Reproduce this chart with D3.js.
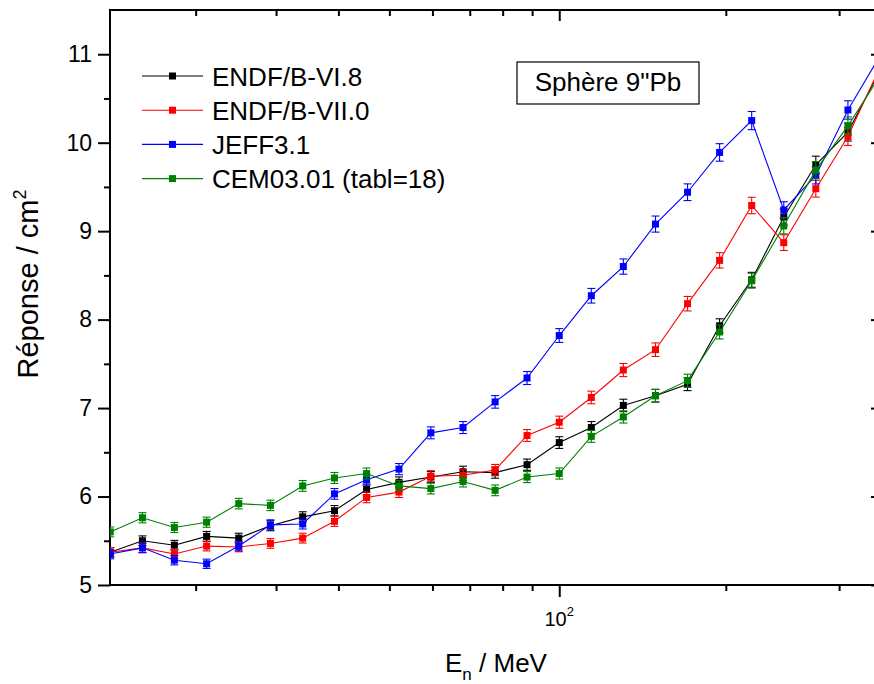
<!DOCTYPE html>
<html>
<head>
<meta charset="utf-8">
<script src="https://cdn.jsdelivr.net/npm/d3@7"></script>
<style>
  html, body { margin: 0; padding: 0; background: #fff; }
  svg { display: block; font-family: "Liberation Sans", Arial, sans-serif; }
</style>
</head>
<body>
<svg id="chart" width="874" height="684"></svg>
<script>
// ---- data ----
const energies = [22.1, 24.8, 27.8, 31.2, 35.0, 39.2, 44.0, 49.3, 55.3, 62.1, 69.6, 78.1, 87.6,
                  98.2, 110.2, 123.6, 138.6, 155.5, 174.4, 195.6, 219.4, 246.1, 276.0, 309.6, 347.0];
const seriesNames = ["ENDF/B-VI.8", "ENDF/B-VII.0", "JEFF3.1", "CEM03.01 (tabl=18)"];
const seriesColors = ["#000000", "#ff0000", "#0000ff", "#008000"];
const endfB6 = [5.37, 5.50, 5.45, 5.55, 5.53, 5.67, 5.77, 5.84, 6.08, 6.16, 6.22, 6.28, 6.27,
                6.36, 6.61, 6.78, 7.03, 7.14, 7.27, 7.93, 8.45, 9.16, 9.75, 10.12, 10.81];
const endfB7 = [5.37, 5.42, 5.35, 5.44, 5.43, 5.47, 5.53, 5.72, 5.99, 6.05, 6.23, 6.24, 6.30,
                6.69, 6.84, 7.12, 7.43, 7.66, 8.18, 8.67, 9.29, 8.87, 9.48, 10.07, 10.85];
const jeff31 = [5.35, 5.42, 5.28, 5.24, 5.44, 5.68, 5.69, 6.03, 6.19, 6.31, 6.72, 6.78, 7.07,
                7.34, 7.82, 8.27, 8.60, 9.08, 9.44, 9.89, 10.25, 9.24, 9.63, 10.37, 10.98];
const cem0301 = [5.60, 5.76, 5.65, 5.71, 5.92, 5.90, 6.12, 6.21, 6.26, 6.12, 6.09, 6.17, 6.07,
                 6.22, 6.26, 6.68, 6.90, 7.14, 7.31, 7.86, 8.44, 9.06, 9.69, 10.19, 10.75];
const relError = 0.01; // error bars ~ ±1 %
const xMinorTicks = [30, 40, 50, 60, 70, 80, 90, 100, 200, 300];
const xMajorTicks = [110.2];
const xMajorLabels = [["10", "2"]];
const yMajorTicks = [5, 6, 7, 8, 9, 10, 11];
const yMinorTicks = [5.5, 6.5, 7.5, 8.5, 9.5, 10.5];
const boxLabel = "Sphère 9\"Pb";
const xTitle = ["E", "n", " / MeV"];
const yTitle = ["Réponse / cm", "2"];

const allSeries = [endfB6, endfB7, jeff31, cem0301];

// ---- layout ----
const L = 110, R = 883, T = 10, B = 585;
const svg = d3.select("#chart");
const x = d3.scaleLog().domain([22.08, 351]).range([L, R]);
const y = d3.scaleLinear().domain([5, 11.5]).range([B, T]);

svg.append("defs").append("clipPath").attr("id", "plotclip")
  .append("rect").attr("x", L).attr("y", T).attr("width", R - L).attr("height", B - T);

// ---- axes ----
function styleAxis(g) {
  g.select(".domain").remove();
  g.selectAll(".tick line").attr("stroke", "#000").attr("stroke-width", 2);
}
// bottom
svg.append("g").attr("transform", `translate(0,${B})`)
  .call(d3.axisBottom(x).tickValues(xMinorTicks).tickSize(6).tickFormat(""))
  .call(styleAxis);
svg.append("g").attr("transform", `translate(0,${B})`)
  .call(d3.axisBottom(x).tickValues(xMajorTicks).tickSize(12).tickFormat(""))
  .call(styleAxis);
// top (ticks inward)
svg.append("g").attr("transform", `translate(0,${T})`)
  .call(d3.axisBottom(x).tickValues(xMinorTicks).tickSize(6).tickFormat(""))
  .call(styleAxis);
svg.append("g").attr("transform", `translate(0,${T})`)
  .call(d3.axisBottom(x).tickValues(xMajorTicks).tickSize(11).tickFormat(""))
  .call(styleAxis);
// left
svg.append("g").attr("transform", `translate(${L},0)`)
  .call(d3.axisLeft(y).tickValues(yMinorTicks).tickSize(6).tickFormat(""))
  .call(styleAxis);
const lMaj = svg.append("g").attr("transform", `translate(${L},0)`)
  .call(d3.axisLeft(y).tickValues(yMajorTicks).tickSize(12).tickPadding(6).tickFormat(d3.format("d")))
  .call(styleAxis);
lMaj.selectAll(".tick text")
  .attr("font-family", "Liberation Sans, Arial, sans-serif")
  .attr("font-size", 23).attr("fill", "#000");
// right (ticks inward)
svg.append("g").attr("transform", `translate(${R},0)`)
  .call(d3.axisLeft(y).tickValues(yMinorTicks).tickSize(6).tickFormat(""))
  .call(styleAxis);
svg.append("g").attr("transform", `translate(${R},0)`)
  .call(d3.axisLeft(y).tickValues(yMajorTicks).tickSize(12).tickFormat(""))
  .call(styleAxis);

// x major label 10^2
xMajorTicks.forEach((v, i) => {
  const t = svg.append("text").attr("x", x(v)).attr("y", B + 41)
    .attr("text-anchor", "middle").attr("font-size", 20).attr("fill", "#000");
  t.append("tspan").text(xMajorLabels[i][0]);
  t.append("tspan").attr("font-size", 13).attr("dy", -10).text(xMajorLabels[i][1]);
});

// frame
svg.append("rect").attr("x", L).attr("y", T).attr("width", R - L).attr("height", B - T)
  .attr("fill", "none").attr("stroke", "#000").attr("stroke-width", 2);

// ---- series ----
const plot = svg.append("g").attr("clip-path", "url(#plotclip)");
const line = d3.line().x((d, i) => x(energies[i])).y(d => y(d));
allSeries.forEach((vals, s) => {
  const c = seriesColors[s];
  const g = plot.append("g");
  g.append("path").datum(vals).attr("d", line).attr("fill", "none")
    .attr("stroke", c).attr("stroke-width", 1.1);
  const pts = g.selectAll("g.pt").data(vals).enter().append("g").attr("class", "pt");
  pts.append("line")
    .attr("x1", (d, i) => x(energies[i])).attr("x2", (d, i) => x(energies[i]))
    .attr("y1", d => y(d * (1 + relError))).attr("y2", d => y(d * (1 - relError)))
    .attr("stroke", c).attr("stroke-width", 1.1);
  [1, -1].forEach(sg => {
    pts.append("line")
      .attr("x1", (d, i) => x(energies[i]) - 4).attr("x2", (d, i) => x(energies[i]) + 4)
      .attr("y1", d => y(d * (1 + sg * relError))).attr("y2", d => y(d * (1 + sg * relError)))
      .attr("stroke", c).attr("stroke-width", 1.1);
  });
  pts.append("rect")
    .attr("x", (d, i) => x(energies[i]) - 3.5).attr("y", d => y(d) - 3.5)
    .attr("width", 7).attr("height", 7).attr("fill", c);
});

// ---- legend ----
const leg = svg.append("g");
seriesNames.forEach((name, i) => {
  const cy = 76 + i * 34.2;
  leg.append("line").attr("x1", 142).attr("x2", 203).attr("y1", cy).attr("y2", cy)
    .attr("stroke", seriesColors[i]).attr("stroke-width", 1.1);
  leg.append("rect").attr("x", 172.5 - 3.5).attr("y", cy - 3.5).attr("width", 7).attr("height", 7)
    .attr("fill", seriesColors[i]);
  leg.append("text").attr("x", 212).attr("y", cy + 9.5).attr("font-size", 26).attr("fill", "#000")
    .text(name);
});

// ---- label box ----
svg.append("rect").attr("x", 517).attr("y", 62).attr("width", 182).attr("height", 42)
  .attr("fill", "#fff").attr("stroke", "#000").attr("stroke-width", 1.2);
svg.append("text").attr("x", 608).attr("y", 91).attr("text-anchor", "middle")
  .attr("font-size", 26).attr("fill", "#000").text(boxLabel);

// ---- axis titles ----
const xt = svg.append("text").attr("x", 496).attr("y", 672).attr("text-anchor", "middle")
  .attr("font-size", 26).attr("fill", "#000");
xt.append("tspan").text(xTitle[0]);
xt.append("tspan").attr("font-size", 17).attr("dy", 8).text(xTitle[1]);
xt.append("tspan").attr("dy", -8).text(xTitle[2]);

const yt = svg.append("text").attr("transform", "translate(38,284) rotate(-90)")
  .attr("text-anchor", "middle").attr("font-size", 29).attr("fill", "#000");
yt.append("tspan").text(yTitle[0]);
yt.append("tspan").attr("font-size", 18).attr("dy", -12).text(yTitle[1]);
</script>
</body>
</html>
